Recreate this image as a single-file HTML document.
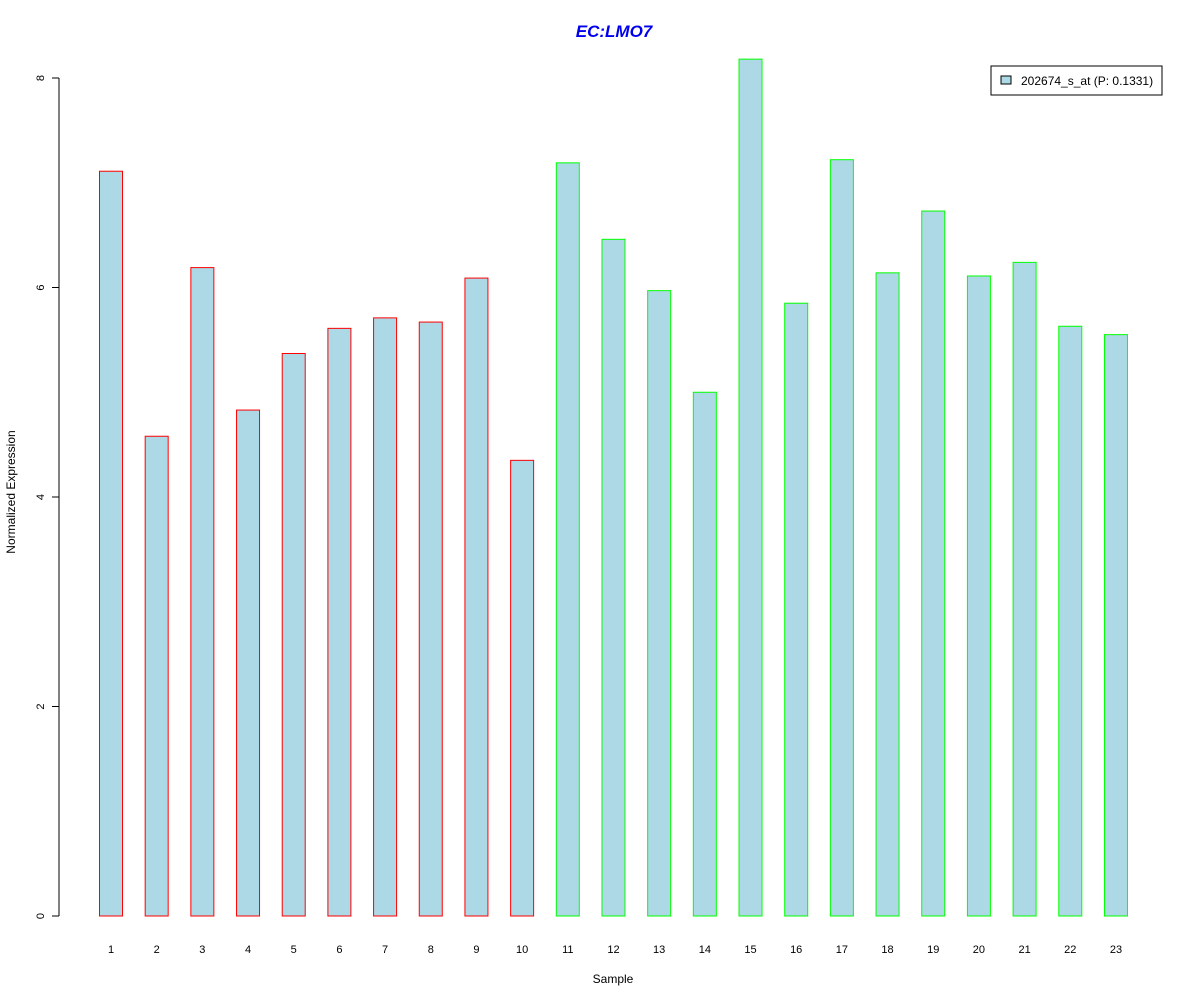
<!DOCTYPE html>
<html><head><meta charset="utf-8"><style>
body{margin:0;background:#fff}
svg{display:block;font-family:"Liberation Sans",Arial,sans-serif}
</style></head><body>
<svg id="chart" width="1200" height="1000" viewBox="0 0 1200 1000">
<text x="614" y="37" text-anchor="middle" font-size="17" font-weight="bold" font-style="italic" fill="#0000ee">EC:LMO7</text>
<g id="yaxis"></g>
<g id="bars"></g>
<g id="xlabels"></g>
<text x="613" y="983" text-anchor="middle" font-size="12">Sample</text>
<text transform="translate(15,492) rotate(-90)" text-anchor="middle" font-size="12">Normalized Expression</text>
<g>
<rect x="991" y="66" width="171" height="29" fill="#fff" stroke="#000"/>
<rect x="1001" y="76" width="10" height="8" fill="#add8e6" stroke="#000"/>
<text x="1021" y="85" font-size="12">202674_s_at (P: 0.1331)</text>
</g>
</svg>
<script>
const categories=["1","2","3","4","5","6","7","8","9","10","11","12","13","14","15","16","17","18","19","20","21","22","23"];
const values=[7.11,4.58,6.19,4.83,5.37,5.61,5.71,5.67,6.09,4.35,7.19,6.46,5.97,5.00,8.18,5.85,7.22,6.14,6.73,6.11,6.24,5.63,5.55];
const groups=["r","r","r","r","r","r","r","r","r","r","g","g","g","g","g","g","g","g","g","g","g","g","g"];
const yTicks=[0,2,4,6,8];
const NS="http://www.w3.org/2000/svg";
const y=v=>916-v*104.75;
const x=i=>111+i*45.68;
function mk(t,a,p){const e=document.createElementNS(NS,t);for(const k in a)e.setAttribute(k,a[k]);p.appendChild(e);return e;}
const ya=document.getElementById('yaxis');
const al=mk('line',{x1:59,x2:59,y1:y(0),y2:y(8),stroke:'#000'},ya);


yTicks.forEach(t=>{
 const l=mk('line',{x1:52,x2:59,y1:y(t),y2:y(t),stroke:'#000'},ya);
 
 
 const tx=mk('text',{transform:`translate(44,${y(t)}) rotate(-90)`,'text-anchor':'middle','font-size':11},ya);
 tx.textContent=t;
 
 
});
const bg=document.getElementById('bars'),xl=document.getElementById('xlabels');
values.forEach((v,i)=>{
 const r=mk('rect',{x:x(i)-11.5,y:y(v),width:23,height:y(0)-y(v),fill:'#add8e6',stroke:groups[i]==='r'?'#ff0000':'#00ff00'},bg);
 
 
 const t=mk('text',{x:x(i),y:953,'text-anchor':'middle','font-size':11},xl);
 t.textContent=categories[i];
 
 
});
</script>
</body></html>
